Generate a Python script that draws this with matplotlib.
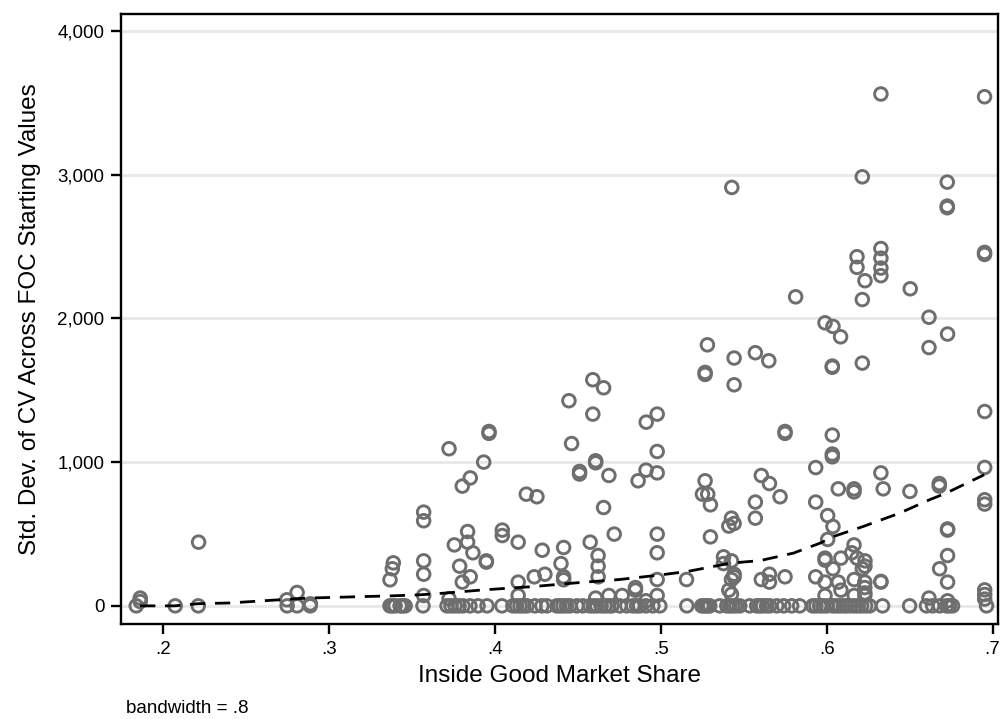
import numpy as np
import matplotlib
matplotlib.use("Agg")
import matplotlib.pyplot as plt
from matplotlib.ticker import FuncFormatter

plt.rcParams['font.family'] = ['Liberation Sans', 'DejaVu Sans']

# points sitting on zero
zero_share = [.1837, .2072, .2211, .2747, .2807, .2886, .3367, .3398, .3428, .3458,
              .3566, .3711, .3759, .3807, .3849, .3898, .3952, .4042, .4108, .4151,
              .4193, .4241, .4283, .4313, .4373, .4410, .4452, .4494, .4530, .4572,
              .4614, .4663, .4705, .4753, .4795, .4831, .4873, .4910, .4952, .4994,
              .5157, .5247, .5271, .5295, .5355, .5398, .5434, .5476, .5536, .5578,
              .5614, .5657, .5699, .5741, .5789, .5837, .5916, .5958, .6000, .6036,
              .6078, .6120, .6169, .6211, .6259, .6337, .6500, .6602, .6639, .6681,
              .6723, .6759, .6964,
              .3382, .3441, .3735, .3783, .4130, .4172, .4390, .4431, .4593, .4640,
              .4685, .4854, .5259, .5283, .5416, .5452, .5596, .5638, .5935, .5977,
              .6057, .6100, .6145, .6190, .6235, .6740]

# points above zero (share, std dev)
pos_share = [.1861, .1861, .2213, .2745, .2807, .2887, .3367, .3381, .3387,
             .357, .357, .357, .357, .357,
             .4590, .4655, .4446, .4590, .3964, .3964, .3723, .4462, .4607, .4607,
             .3932, .3851, .3803, .4510, .4510, .4687, .4189, .4253, .4655, .4044,
             .4044, .4719, .3755, .3835, .3835, .3867, .4140, .4574, .4285, .4414,
             .3948, .3948, .3787, .4398, .4622, .4622, .4622, .3851, .3803, .4140,
             .4140, .4237, .4301, .4414, .4414, .3723, .4607, .4687, .4767, .4847,
             .4847, .4911,
             .5281, .5442, .5570, .5651, .5267, .5267, .5442, .5749, .5749, .4978,
             .4912, .4978, .4863, .4911, .4978, .5267, .5251, .5283, .5299, .5606,
             .5655, .5719, .5570, .5570, .5934, .5934, .4978, .4978, .5299, .5426,
             .5442, .5410, .5378, .5426, .5378, .5442, .5442, .5426, .5410, .5426,
             .5155, .4978, .4978, .5606, .5655, .5655, .5749, .5934,
             .6327, .6952, .5428, .6215, .6727, .6727, .6727, .6952, .6952, .6327,
             .6327, .6327, .6327, .6183, .6183, .6231, .6504, .5813, .6215, .6617,
             .5990, .6038, .6084, .6034, .6034, .6215, .6729, .6617, .6953, .6034,
             .6034, .6034, .6327, .6953, .6070, .6165, .6165, .6341, .6502, .6679,
             .6679, .6953, .6953, .6006, .6038, .6006, .6165, .6729, .6729, .5990,
             .5990, .6086, .6151, .6183, .6231, .6215, .6231, .6729, .6038, .5990,
             .6070, .6166, .6086, .6230, .6230, .6230, .6230, .6327, .6327, .6681,
             .6729, .5990, .6166, .6617, .6729, .6953, .6953, .6953]
pos_sd = [54, 30, 443, 42, 93, 14, 181, 258, 299,
          652, 592, 313, 220, 72,
          1573, 1517, 1427, 1334, 1213, 1200, 1093, 1129, 1009, 995,
          1000, 890, 833, 935, 917, 907, 777, 759, 684, 527,
          489, 499, 424, 517, 443, 369, 443, 443, 387, 406,
          313, 304, 276, 294, 350, 276, 202, 202, 165, 165,
          72, 202, 220, 202, 181, 49, 54, 72, 72, 127,
          109, 35,
          1816, 1724, 1761, 1705, 1624, 1610, 1538, 1213, 1200, 1334,
          1278, 1074, 870, 944, 925, 870, 777, 777, 703, 907,
          851, 759, 722, 610, 962, 722, 499, 369, 480, 610,
          573, 555, 341, 313, 294, 220, 202, 183, 109, 81,
          183, 183, 72, 183, 220, 165, 202, 202,
          3561, 3542, 2911, 2985, 2948, 2781, 2770, 2459, 2445, 2486,
          2419, 2350, 2297, 2429, 2355, 2262, 2206, 2150, 2131, 2008,
          1969, 1944, 1872, 1668, 1660, 1689, 1891, 1797, 1352, 1188,
          1056, 1037, 925, 963, 814, 814, 793, 814, 796, 851,
          833, 738, 708, 628, 552, 462, 424, 527, 535, 332,
          318, 332, 369, 332, 313, 258, 276, 350, 258, 165,
          165, 183, 109, 165, 127, 90, 72, 165, 170, 258,
          165, 72, 72, 54, 35, 111, 79, 47]

# lowess smooth
lowess_x = [.186, .207, .221, .240, .260, .287, .339, .355, .369, .393, .423, .451,
            .475, .499, .516, .542, .560, .580, .596, .604, .622, .644, .662, .672, .695]
lowess_y = [0, 0, 15, 20, 35, 54, 70, 77, 88, 111, 134, 162,
            183, 214, 239, 297, 315, 367, 436, 482, 552, 645, 738, 784, 912]

share = np.array(zero_share + pos_share)
sd = np.array([0] * len(zero_share) + pos_sd)

fig = plt.figure(figsize=(10.04, 7.19), dpi=100)
ax = fig.add_axes([0.1205, 0.132, 0.874, 0.848])

ax.scatter(share, sd, s=82, facecolors='none', edgecolors='#6e6e6e', linewidths=2.1, zorder=3)
ax.plot(lowess_x, lowess_y, color='black', lw=2.0, linestyle=(0, (5.5, 3.5)), zorder=4)

ax.set_xlim(.1745, .7036)
ax.set_ylim(-127, 4115)
ax.set_xticks([.2, .3, .4, .5, .6, .7])
ax.set_xticklabels(['.2', '.3', '.4', '.5', '.6', '.7'])
ax.set_yticks([0, 1000, 2000, 3000, 4000])
ax.yaxis.set_major_formatter(FuncFormatter(lambda v, p: f'{int(v):,}'))
ax.grid(axis='y', color='#e8e8e8', lw=2.0, zorder=0)
ax.set_axisbelow(True)

for s in ax.spines.values():
    s.set_linewidth(1.7)
ax.tick_params(direction='out', length=7, width=1.7, labelsize=13.5, pad=5)

ax.set_xlabel('Inside Good Market Share', fontsize=17.5, labelpad=5)
ax.set_ylabel('Std. Dev. of CV Across FOC Starting Values', fontsize=17.5, labelpad=12)
fig.text(0.1255, 0.003, 'bandwidth = .8', fontsize=13.5, ha='left', va='bottom')

fig.savefig('out.png', dpi=100)
